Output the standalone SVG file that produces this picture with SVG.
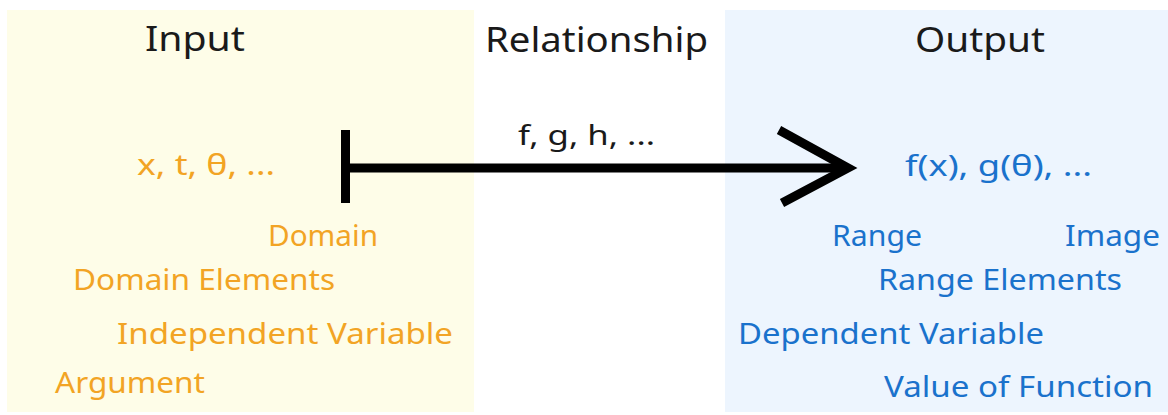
<svg xmlns="http://www.w3.org/2000/svg" width="1168" height="415" viewBox="0 0 1168 415">
<style>
.hd{font-family:"Comic Sans MS","Noto Sans",sans-serif;font-size:35px;fill:#1a1a1a}
.in{font-family:"Comic Sans MS","Noto Sans",sans-serif;font-size:29px;fill:#f2a424}
.out{font-family:"Comic Sans MS","Noto Sans",sans-serif;font-size:29px;fill:#1a72cc}
.fn{font-family:"Comic Sans MS","Noto Sans",sans-serif;font-size:27px;fill:#1a1a1a}
.conn{stroke:#000;stroke-width:9;fill:none}
</style>
<rect width="1168" height="415" fill="#ffffff"/>
<g id="input-panel">
<rect x="7" y="10" width="467" height="402" fill="#fefde8"/>
<text class="hd" x="145" y="51" textLength="100" lengthAdjust="spacingAndGlyphs">Input</text>
<text class="in" x="137" y="175" textLength="138" lengthAdjust="spacingAndGlyphs">x, t, θ, ...</text>
<text class="in" x="268" y="246" textLength="110" lengthAdjust="spacingAndGlyphs">Domain</text>
<text class="in" x="73" y="290" textLength="262" lengthAdjust="spacingAndGlyphs">Domain Elements</text>
<text class="in" x="117" y="344" textLength="336" lengthAdjust="spacingAndGlyphs">Independent Variable</text>
<text class="in" x="55" y="393" textLength="150" lengthAdjust="spacingAndGlyphs">Argument</text>
</g>
<g id="relationship">
<text class="hd" x="485" y="52" textLength="223" lengthAdjust="spacingAndGlyphs">Relationship</text>
<text class="fn" x="518" y="145" textLength="137" lengthAdjust="spacingAndGlyphs">f, g, h, ...</text>
</g>
<g id="output-panel">
<rect x="725" y="10" width="443" height="402" fill="#edf5fe"/>
<text class="hd" x="915" y="52" textLength="130" lengthAdjust="spacingAndGlyphs">Output</text>
<text class="out" x="905" y="176" textLength="187" lengthAdjust="spacingAndGlyphs">f(x), g(θ), ...</text>
<text class="out" x="832" y="246" textLength="90" lengthAdjust="spacingAndGlyphs">Range</text>
<text class="out" x="1065" y="246" textLength="95" lengthAdjust="spacingAndGlyphs">Image</text>
<text class="out" x="878" y="290" textLength="244" lengthAdjust="spacingAndGlyphs">Range Elements</text>
<text class="out" x="738" y="344" textLength="306" lengthAdjust="spacingAndGlyphs">Dependent Variable</text>
<text class="out" x="884" y="397" textLength="269" lengthAdjust="spacingAndGlyphs">Value of Function</text>
</g>
<g id="connectors">
<line class="conn" x1="345.5" y1="130" x2="345.5" y2="203"/>
<line class="conn" x1="345" y1="168" x2="846" y2="168"/>
<polyline class="conn" points="779,130 848,168 782,203" stroke-linejoin="miter"/>
</g>
</svg>
